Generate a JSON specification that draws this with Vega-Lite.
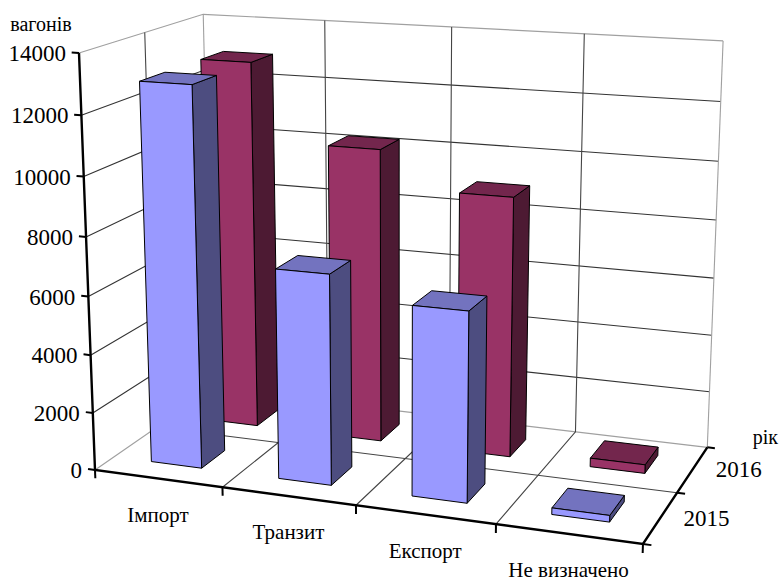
{"$schema":"https://vega.github.io/schema/vega-lite/v6.json","width":780,"height":581,"padding":0,"autosize":"none","background":"white","view":{"stroke":null},"config":{"text":{"font":"Liberation Serif","color":"#000"}},
"datasets":{
"bars":[
{"category":"Імпорт","year":2016,"value":12950},{"category":"Транзит","year":2016,"value":10270},{"category":"Експорт","year":2016,"value":9000},{"category":"Не визначено","year":2016,"value":300},
{"category":"Імпорт","year":2015,"value":12950},{"category":"Транзит","year":2015,"value":7130},{"category":"Експорт","year":2015,"value":6370},{"category":"Не визначено","year":2015,"value":220}],
"values":[{"value":0},{"value":2000},{"value":4000},{"value":6000},{"value":8000},{"value":10000},{"value":12000},{"value":14000}],
"cats":[{"category":"Імпорт","i":0},{"category":"Транзит","i":1},{"category":"Експорт","i":2},{"category":"Не визначено","i":3},{"category":"","i":4}],
"years":[{"year":2015,"i":0},{"year":2016,"i":1},{"year":"","i":2}],
"titles":[{"label":"вагонів"},{"label":"рік"}]},
"encoding":{"x":{"field":"px","type":"quantitative","scale":{"domain":[0,780],"range":[0,780],"nice":false,"zero":false},"axis":null},"y":{"field":"py","type":"quantitative","scale":{"domain":[0,581],"range":[0,581],"nice":false,"zero":false},"axis":null}},
"layer":[
{"data":{"name":"values"},"transform":[{"filter":"datum.value>0&&datum.value<14000"},{"calculate":"[[0,0,datum.value/14000,0],[0,1,datum.value/14000,1],[1,1,datum.value/14000,2]]","as":"p"},{"flatten":["p"]},{"calculate":"datum.p[3]","as":"k"},{"calculate":"(95+489.7*datum.p[0]+142*datum.p[1]-19.95*datum.p[2])/(1-0.0906*datum.p[0]+0.118*datum.p[1]-0.05*datum.p[2])","as":"px"},{"calculate":"(470+24.7*datum.p[0]-35.1*datum.p[1]-419.65*datum.p[2])/(1-0.0906*datum.p[0]+0.118*datum.p[1]-0.05*datum.p[2])","as":"py"}],"mark":{"type":"line","stroke":"#333","strokeWidth":1.1},"encoding":{"detail":{"field":"value"},"order":{"field":"k"}}},
{"data":{"name":"values"},"transform":[{"filter":"datum.value==0||datum.value==14000"},{"calculate":"[[0,0,datum.value/14000,0],[0,1,datum.value/14000,1],[1,1,datum.value/14000,2]]","as":"p"},{"flatten":["p"]},{"calculate":"datum.p[3]","as":"k"},{"calculate":"(95+489.7*datum.p[0]+142*datum.p[1]-19.95*datum.p[2])/(1-0.0906*datum.p[0]+0.118*datum.p[1]-0.05*datum.p[2])","as":"px"},{"calculate":"(470+24.7*datum.p[0]-35.1*datum.p[1]-419.65*datum.p[2])/(1-0.0906*datum.p[0]+0.118*datum.p[1]-0.05*datum.p[2])","as":"py"}],"mark":{"type":"line","stroke":"#a0a0a0","strokeWidth":1.2},"encoding":{"detail":{"field":"value"},"order":{"field":"k"}}},
{"data":{"name":"cats"},"transform":[{"calculate":"datum.i==0||datum.i==4?[[datum.i/4,1,1,0],[datum.i/4,1,0,1]]:[[datum.i/4,1,1,0],[datum.i/4,1,0,1],[datum.i/4,0,0,2]]","as":"p"},{"flatten":["p"]},{"calculate":"datum.p[3]","as":"k"},{"calculate":"(95+489.7*datum.p[0]+142*datum.p[1]-19.95*datum.p[2])/(1-0.0906*datum.p[0]+0.118*datum.p[1]-0.05*datum.p[2])","as":"px"},{"calculate":"(470+24.7*datum.p[0]-35.1*datum.p[1]-419.65*datum.p[2])/(1-0.0906*datum.p[0]+0.118*datum.p[1]-0.05*datum.p[2])","as":"py"},{"calculate":"datum.i==0||datum.i==4?'edge':'inner'","as":"tone"}],"mark":{"type":"line","strokeWidth":1.1},"encoding":{"detail":{"field":"i"},"order":{"field":"k"},"stroke":{"field":"tone","type":"nominal","scale":{"domain":["edge","inner"],"range":["#a0a0a0","#444444"]},"legend":null}}},
{"data":{"name":"years"},"transform":[{"filter":"datum.i==1"},{"calculate":"[[0,0.5,1,0],[0,0.5,0,1],[1,0.5,0,2]]","as":"p"},{"flatten":["p"]},{"calculate":"datum.p[3]","as":"k"},{"calculate":"(95+489.7*datum.p[0]+142*datum.p[1]-19.95*datum.p[2])/(1-0.0906*datum.p[0]+0.118*datum.p[1]-0.05*datum.p[2])","as":"px"},{"calculate":"(470+24.7*datum.p[0]-35.1*datum.p[1]-419.65*datum.p[2])/(1-0.0906*datum.p[0]+0.118*datum.p[1]-0.05*datum.p[2])","as":"py"}],"mark":{"type":"line","stroke":"#444","strokeWidth":1.1},"encoding":{"order":{"field":"k"}}},
{"data":{"name":"bars"},"transform":[{"calculate":"indexof(['Імпорт','Транзит','Експорт','Не визначено'],datum.category)","as":"ci"},{"calculate":"(datum.ci+0.3)/4","as":"u0"},{"calculate":"(datum.ci+0.7)/4","as":"u1"},{"calculate":"(datum.year-2015+0.3)/2","as":"v0"},{"calculate":"(datum.year-2015+0.7)/2","as":"v1"},{"calculate":"datum.value/14000","as":"h"},{"calculate":"[[datum.u1,datum.v0,0,0,'side'],[datum.u1,datum.v1,0,1,'side'],[datum.u1,datum.v1,datum.h,2,'side'],[datum.u1,datum.v0,datum.h,3,'side'],[datum.u1,datum.v0,0,4,'side'],[datum.u0,datum.v0,datum.h,0,'top'],[datum.u1,datum.v0,datum.h,1,'top'],[datum.u1,datum.v1,datum.h,2,'top'],[datum.u0,datum.v1,datum.h,3,'top'],[datum.u0,datum.v0,datum.h,4,'top'],[datum.u0,datum.v0,0,0,'front'],[datum.u1,datum.v0,0,1,'front'],[datum.u1,datum.v0,datum.h,2,'front'],[datum.u0,datum.v0,datum.h,3,'front'],[datum.u0,datum.v0,0,4,'front']]","as":"p"},{"flatten":["p"]},{"calculate":"datum.p[3]","as":"k"},{"calculate":"datum.year+' '+datum.p[4]","as":"face"},{"calculate":"datum.category+' '+datum.face","as":"id"},{"calculate":"(95+489.7*datum.p[0]+142*datum.p[1]-19.95*datum.p[2])/(1-0.0906*datum.p[0]+0.118*datum.p[1]-0.05*datum.p[2])","as":"px"},{"calculate":"(470+24.7*datum.p[0]-35.1*datum.p[1]-419.65*datum.p[2])/(1-0.0906*datum.p[0]+0.118*datum.p[1]-0.05*datum.p[2])","as":"py"}],"mark":{"type":"line","filled":true,"stroke":"#000","strokeWidth":1,"strokeJoin":"miter"},"encoding":{"detail":{"field":"id"},"order":{"field":"k"},"fill":{"field":"face","type":"nominal","scale":{"domain":["2015 front","2015 top","2015 side","2016 front","2016 top","2016 side"],"range":["#9999FF","#7373BF","#4D4D80","#993366","#73264D","#4D1A33"]},"legend":null}}},
{"data":{"name":"values"},"transform":[{"filter":"datum.value==0"},{"calculate":"[[0,0,1,0],[0,0,0,1],[1,0,0,2],[1,1,0,3]]","as":"p"},{"flatten":["p"]},{"calculate":"datum.p[3]","as":"k"},{"calculate":"(95+489.7*datum.p[0]+142*datum.p[1]-19.95*datum.p[2])/(1-0.0906*datum.p[0]+0.118*datum.p[1]-0.05*datum.p[2])","as":"px"},{"calculate":"(470+24.7*datum.p[0]-35.1*datum.p[1]-419.65*datum.p[2])/(1-0.0906*datum.p[0]+0.118*datum.p[1]-0.05*datum.p[2])","as":"py"}],"mark":{"type":"line","stroke":"#000","strokeWidth":2.4},"encoding":{"order":{"field":"k"}}},
{"data":{"name":"values"},"transform":[{"calculate":"[[-0.014,0,datum.value/14000,0],[0,0,datum.value/14000,1]]","as":"p"},{"flatten":["p"]},{"calculate":"datum.p[3]","as":"k"},{"calculate":"(95+489.7*datum.p[0]+142*datum.p[1]-19.95*datum.p[2])/(1-0.0906*datum.p[0]+0.118*datum.p[1]-0.05*datum.p[2])","as":"px"},{"calculate":"(470+24.7*datum.p[0]-35.1*datum.p[1]-419.65*datum.p[2])/(1-0.0906*datum.p[0]+0.118*datum.p[1]-0.05*datum.p[2])","as":"py"}],"mark":{"type":"line","stroke":"#000","strokeWidth":2},"encoding":{"detail":{"field":"value"},"order":{"field":"k"}}},
{"data":{"name":"cats"},"transform":[{"calculate":"[[datum.i/4,0,0,0],[datum.i/4,0,-0.021,1]]","as":"p"},{"flatten":["p"]},{"calculate":"datum.p[3]","as":"k"},{"calculate":"(95+489.7*datum.p[0]+142*datum.p[1]-19.95*datum.p[2])/(1-0.0906*datum.p[0]+0.118*datum.p[1]-0.05*datum.p[2])","as":"px"},{"calculate":"(470+24.7*datum.p[0]-35.1*datum.p[1]-419.65*datum.p[2])/(1-0.0906*datum.p[0]+0.118*datum.p[1]-0.05*datum.p[2])","as":"py"}],"mark":{"type":"line","stroke":"#000","strokeWidth":2},"encoding":{"detail":{"field":"i"},"order":{"field":"k"}}},
{"data":{"name":"years"},"transform":[{"calculate":"[[1,datum.i/2,0,0],[1.014,datum.i/2,0,1]]","as":"p"},{"flatten":["p"]},{"calculate":"datum.p[3]","as":"k"},{"calculate":"(95+489.7*datum.p[0]+142*datum.p[1]-19.95*datum.p[2])/(1-0.0906*datum.p[0]+0.118*datum.p[1]-0.05*datum.p[2])","as":"px"},{"calculate":"(470+24.7*datum.p[0]-35.1*datum.p[1]-419.65*datum.p[2])/(1-0.0906*datum.p[0]+0.118*datum.p[1]-0.05*datum.p[2])","as":"py"}],"mark":{"type":"line","stroke":"#000","strokeWidth":2},"encoding":{"detail":{"field":"i"},"order":{"field":"k"}}},
{"data":{"name":"values"},"transform":[{"calculate":"[0,0,datum.value/14000]","as":"p"},{"calculate":"(95+489.7*datum.p[0]+142*datum.p[1]-19.95*datum.p[2])/(1-0.0906*datum.p[0]+0.118*datum.p[1]-0.05*datum.p[2])","as":"px"},{"calculate":"(470+24.7*datum.p[0]-35.1*datum.p[1]-419.65*datum.p[2])/(1-0.0906*datum.p[0]+0.118*datum.p[1]-0.05*datum.p[2])","as":"py"}],"mark":{"type":"text","align":"right","baseline":"middle","dx":-13,"dy":1,"fontSize":23},"encoding":{"text":{"field":"value","type":"nominal"}}},
{"data":{"name":"cats"},"transform":[{"filter":"datum.i<4"},{"calculate":"[(datum.i+0.5)/4,0,0]","as":"p"},{"calculate":"(95+489.7*datum.p[0]+142*datum.p[1]-19.95*datum.p[2])/(1-0.0906*datum.p[0]+0.118*datum.p[1]-0.05*datum.p[2])","as":"px"},{"calculate":"(470+24.7*datum.p[0]-35.1*datum.p[1]-419.65*datum.p[2])/(1-0.0906*datum.p[0]+0.118*datum.p[1]-0.05*datum.p[2])","as":"py"}],"mark":{"type":"text","align":"center","baseline":"middle","dy":37,"fontSize":21},"encoding":{"text":{"field":"category","type":"nominal"}}},
{"data":{"name":"years"},"transform":[{"filter":"datum.i<2"},{"calculate":"[1,(datum.i+0.5)/2,0]","as":"p"},{"calculate":"(95+489.7*datum.p[0]+142*datum.p[1]-19.95*datum.p[2])/(1-0.0906*datum.p[0]+0.118*datum.p[1]-0.05*datum.p[2])","as":"px"},{"calculate":"(470+24.7*datum.p[0]-35.1*datum.p[1]-419.65*datum.p[2])/(1-0.0906*datum.p[0]+0.118*datum.p[1]-0.05*datum.p[2])","as":"py"}],"mark":{"type":"text","align":"center","baseline":"middle","dx":46,"dy":1,"fontSize":23},"encoding":{"text":{"field":"year","type":"nominal"}}},
{"data":{"name":"titles"},"transform":[{"filter":"datum.label=='вагонів'"},{"calculate":"[0,0,1]","as":"p"},{"calculate":"(95+489.7*datum.p[0]+142*datum.p[1]-19.95*datum.p[2])/(1-0.0906*datum.p[0]+0.118*datum.p[1]-0.05*datum.p[2])","as":"px"},{"calculate":"(470+24.7*datum.p[0]-35.1*datum.p[1]-419.65*datum.p[2])/(1-0.0906*datum.p[0]+0.118*datum.p[1]-0.05*datum.p[2])","as":"py"}],"mark":{"type":"text","align":"center","baseline":"middle","dx":-38,"dy":-28,"fontSize":20},"encoding":{"text":{"field":"label","type":"nominal"}}},
{"data":{"name":"titles"},"transform":[{"filter":"datum.label=='рік'"},{"calculate":"[1,1,0]","as":"p"},{"calculate":"(95+489.7*datum.p[0]+142*datum.p[1]-19.95*datum.p[2])/(1-0.0906*datum.p[0]+0.118*datum.p[1]-0.05*datum.p[2])","as":"px"},{"calculate":"(470+24.7*datum.p[0]-35.1*datum.p[1]-419.65*datum.p[2])/(1-0.0906*datum.p[0]+0.118*datum.p[1]-0.05*datum.p[2])","as":"py"}],"mark":{"type":"text","align":"center","baseline":"middle","dx":58,"dy":-9,"fontSize":20},"encoding":{"text":{"field":"label","type":"nominal"}}}
]}
